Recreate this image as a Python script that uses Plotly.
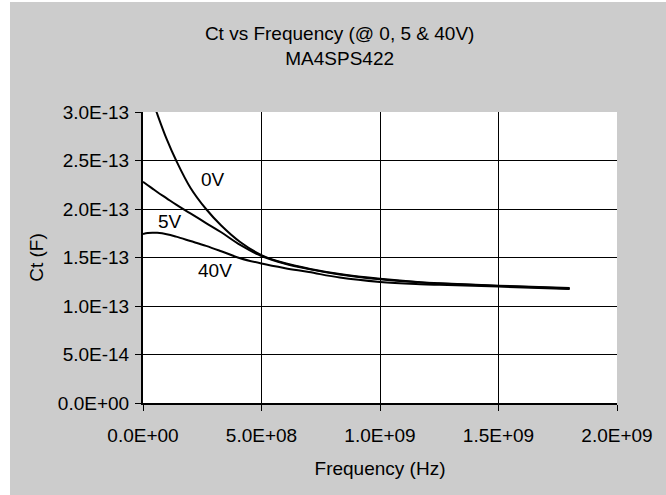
import plotly.graph_objects as go

# Frequency points (Hz) and total capacitance (F) at each bias
freq_hz = [0, 2e7, 4e7, 6e7, 1e8, 1.4e8, 2e8, 2.66e8, 3.3e8, 4.1e8, 5e8,
           6e8, 7e8, 8.3e8, 1e9, 1.17e9, 1.25e9, 1.5e9, 1.8e9]
ct_0v = [3.45e-13, 3.28e-13, 3.12e-13, 2.98e-13, 2.72e-13, 2.50e-13, 2.22e-13,
         2.00e-13, 1.83e-13, 1.66e-13, 1.525e-13, 1.44e-13, 1.385e-13, 1.33e-13,
         1.28e-13, 1.245e-13, 1.235e-13, 1.21e-13, 1.185e-13]
ct_5v = [2.28e-13, 2.245e-13, 2.21e-13, 2.175e-13, 2.11e-13, 2.045e-13, 1.955e-13,
         1.855e-13, 1.76e-13, 1.63e-13, 1.515e-13, 1.435e-13, 1.38e-13, 1.325e-13,
         1.275e-13, 1.243e-13, 1.232e-13, 1.207e-13, 1.18e-13]
ct_40v = [1.742e-13, 1.752e-13, 1.756e-13, 1.754e-13, 1.74e-13, 1.715e-13, 1.67e-13,
          1.62e-13, 1.565e-13, 1.493e-13, 1.438e-13, 1.39e-13, 1.35e-13, 1.293e-13,
          1.248e-13, 1.225e-13, 1.218e-13, 1.20e-13, 1.175e-13]

series_names = ["0V", "5V", "40V"]
x_ticks = [0, 5e8, 1e9, 1.5e9, 2e9]
y_ticks = [0, 5e-14, 1e-13, 1.5e-13, 2e-13, 2.5e-13, 3e-13]

FONT = "Liberation Sans, Arial, sans-serif"
FS = 19
BG = "#cccccc"

fig = go.Figure()
for name, ys in zip(series_names, [ct_0v, ct_5v, ct_40v]):
    fig.add_trace(go.Scatter(
        x=freq_hz, y=ys, name=name, mode="lines",
        line=dict(color="black", width=2, shape="spline", smoothing=1.0),
        hoverinfo="x+y+name",
    ))

# Curve labels
for text, fx, cy in [("0V", 2.95e8, 2.30e-13), ("5V", 1.12e8, 1.871e-13), ("40V", 3.02e8, 1.366e-13)]:
    fig.add_annotation(x=fx, y=cy, text=text, showarrow=False,
                       font=dict(family=FONT, size=FS, color="black"))

fig.update_layout(
    width=666, height=495,
    margin=dict(l=143, r=49, t=112, b=92),
    paper_bgcolor="white",
    plot_bgcolor="white",
    showlegend=False,
    font=dict(family=FONT, size=FS, color="black"),
    title=dict(
        text="Ct vs Frequency (@ 0, 5 & 40V)<br>MA4SPS422",
        x=0.51, xref="container", xanchor="center",
        y=0.919, yref="container", yanchor="top",
        font=dict(family=FONT, size=FS, color="black"),
    ),
    shapes=[
        # grey chart area
        dict(type="rect", xref="paper", yref="paper", layer="below",
             x0=-0.2806, x1=1.1034, y0=-0.316, y1=1.378,
             fillcolor=BG, line=dict(width=0)),
        # white plotting area
        dict(type="rect", xref="paper", yref="paper", layer="below",
             x0=0, x1=1, y0=0, y1=1,
             fillcolor="white", line=dict(width=0)),
    ],
)

fig.update_xaxes(
    range=[0, 2e9],
    tickvals=x_ticks,
    ticktext=[f"{v:.1E}" for v in x_ticks],
    ticks="outside", ticklen=6, tickcolor="black", tickwidth=1,
    ticklabelstandoff=8,
    showline=True, linecolor="black", linewidth=2,
    showgrid=True, gridcolor="black", gridwidth=1,
    zeroline=False,
    title=dict(text="Frequency (Hz)", standoff=17,
               font=dict(family=FONT, size=FS, color="black")),
    tickfont=dict(family=FONT, size=FS, color="black"),
)
fig.update_yaxes(
    range=[0, 3e-13],
    tickvals=y_ticks,
    ticktext=[f"{v:.1E}" for v in y_ticks],
    ticks="outside", ticklen=6, tickcolor="black", tickwidth=1,
    ticklabelstandoff=2,
    showline=True, linecolor="black", linewidth=2,
    showgrid=True, gridcolor="black", gridwidth=1,
    zeroline=False,
    title=dict(text="Ct (F)", standoff=9,
               font=dict(family=FONT, size=FS, color="black")),
    tickfont=dict(family=FONT, size=FS, color="black"),
)

fig.write_html("out.html")
